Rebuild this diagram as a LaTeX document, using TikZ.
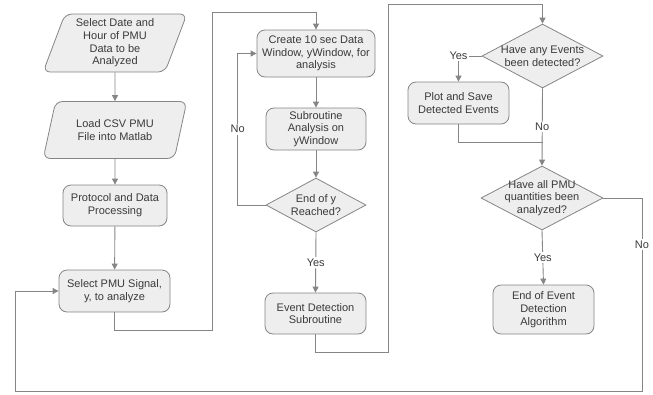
\documentclass[tikz,border=0pt]{standalone}
\usepackage{fontspec}
\setmainfont{Liberation Sans}
\usetikzlibrary{arrows.meta, positioning, shapes.geometric}
\definecolor{fline}{HTML}{858585}
\definecolor{ffill}{HTML}{EEEEEE}
\definecolor{ftext}{HTML}{3A3A3A}
\tikzset{
  iobox/.style={trapezium, trapezium left angle=71, trapezium right angle=109,
                trapezium stretches=true, draw=fline, fill=ffill, rounded corners=7pt,
                align=center, text=ftext, inner sep=2pt, line width=0.8pt},
  pbox/.style={rectangle, draw=fline, fill=ffill, rounded corners=8pt,
               align=center, text=ftext, inner sep=2pt, line width=0.8pt},
  dbox/.style={diamond, draw=fline, fill=ffill, inner sep=0pt, line width=0.8pt},
  dtext/.style={align=center, text=ftext, inner sep=0pt},
  arr/.style={-{Triangle[width=6pt,length=6pt]}, fline, line width=0.9pt},
  lin/.style={fline, line width=0.9pt},
  lbl/.style={fill=white, text=ftext, inner sep=1.5pt},
}

\begin{document}
\begin{tikzpicture}[x=1pt, y=-1pt, every node/.style={font=\fontsize{11}{12.7}\selectfont}]
  \useasboundingbox (0,0) rectangle (653,394);

  %% Column 1: input and signal selection
  \node[iobox, minimum width=144pt, minimum height=58pt] (sel) at (115,43)
    {Select Date and\\Hour of PMU\\Data to be\\Analyzed};
  \node[iobox, minimum width=144pt, minimum height=57pt] (load) at (115,130)
    {Load CSV PMU\\File into Matlab};
  \node[pbox, minimum width=104pt, minimum height=41pt] (proto) at (115,205.5)
    {Protocol and Data\\Processing};
  \node[pbox, minimum width=111pt, minimum height=42pt] (pmu) at (114.5,291)
    {Select PMU Signal,\\y, to analyze};

  %% Column 2: windowing loop
  \node[pbox, minimum width=118pt, minimum height=47pt] (create) at (316,53.5)
    {Create 10 sec Data\\Window, yWindow, for\\analysis};
  \node[pbox, minimum width=100pt, minimum height=42pt] (sub) at (316,129)
    {Subroutine\\Analysis on\\yWindow};
  \node[dbox, minimum width=100pt, minimum height=54pt,
        label={[dtext]center:End of y\\Reached?}] (endy) at (316,205) {};
  \node[pbox, minimum width=101pt, minimum height=41pt] (evdet) at (315.5,313.5)
    {Event Detection\\Subroutine};

  %% Column 3: results
  \node[dbox, minimum width=121pt, minimum height=64pt,
        label={[dtext]center:Have any Events\\been detected?}] (anyev) at (542.5,56) {};
  \node[pbox, minimum width=101pt, minimum height=42pt] (plot) at (458.5,103)
    {Plot and Save\\Detected Events};
  \node[dbox, minimum width=122pt, minimum height=64pt,
        label={[dtext]center:Have all PMU\\quantities been\\analyzed?}] (allpmu) at (542,198) {};
  \node[pbox, minimum width=101pt, minimum height=49pt] (endalg) at (543.5,309.5)
    {End of Event\\Detection\\Algorithm};

  %% Routing points
  \coordinate (r1) at (212,330);
  \coordinate (t1) at (212,12);
  \coordinate (r2) at (388,352);
  \coordinate (t2) at (388,4);
  \coordinate (j1) at (543,142);
  \coordinate (r3) at (642,198);
  \coordinate (b3) at (642,391);
  \coordinate (b4) at (15,391);

  %% Connectors
  \draw[arr] (sel) -- (load);
  \draw[arr] (load) -- (proto);
  \draw[arr] (proto) -- (pmu);
  \draw[arr] (pmu.south) |- (r1) -- (t1) -| (create.north);
  \draw[arr] (create) -- (sub);
  \draw[arr] (sub) -- (endy);
  \draw[arr] (endy.west) -- ++(-28,0) |- node[lbl, pos=0.25] {No} (create.west);
  \draw[arr] (endy.south) -- node[lbl] {Yes} (evdet.north);
  \draw[arr] (evdet.south) |- (r2) -- (t2) -| (anyev.north);
  \draw[arr] (anyev.west) -| node[lbl, pos=0.5] {Yes} (plot.north);
  \draw[lin] (plot.south) |- (j1);
  \draw[arr] (anyev.south) -- node[lbl] {No} (allpmu.north);
  \draw[arr] (allpmu.south) -- node[lbl] {Yes} (endalg.north);
  \draw[arr] (allpmu.east) -- (r3) -- node[lbl, pos=0.24] {No} (b3) -- (b4) |- (pmu.west);
\end{tikzpicture}
\end{document}
